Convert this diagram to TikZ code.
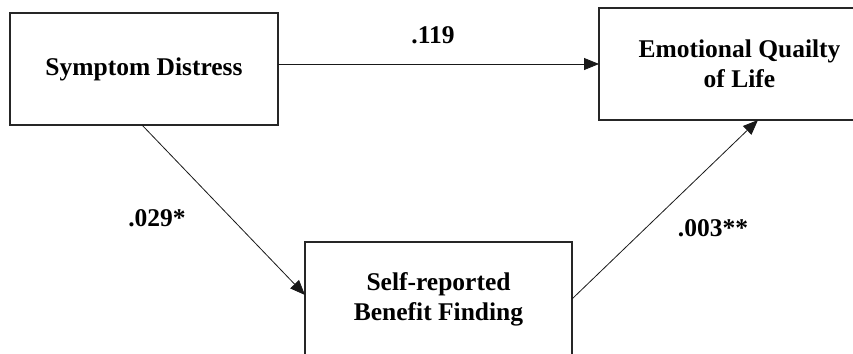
\documentclass[tikz,border=0pt]{standalone}
\usepackage{fontspec}
\setmainfont{Liberation Serif}
\usetikzlibrary{arrows.meta,calc}
\begin{document}
\begin{tikzpicture}[x=1bp,y=-1bp,
  box/.style={draw=black!85,line width=1.3bp,fill=white,inner sep=0pt,outer sep=0pt,align=center,
    font=\fontsize{25.5bp}{30bp}\selectfont\bfseries},
  lbl/.style={font=\fontsize{25.5bp}{30bp}\selectfont\bfseries,inner sep=0pt},
  arr/.style={draw=black!90,line width=0.8bp,-{Triangle[length=15bp,width=12bp]}}]
\useasboundingbox (0,0) rectangle (853,353);
\clip (0,0) rectangle (853,353);
\fill[white] (0,0) rectangle (853,353);
\node[box,minimum width=268bp,minimum height=112bp] (sd) at (144,69) {Symptom Distress};
\node[box,minimum width=281bp,minimum height=112bp] (eq) at (739.5,64) {Emotional Quailty\\of Life};
\node[box,minimum width=267bp,minimum height=114bp] (sr) at (438.5,299) {Self-reported\\Benefit Finding};
\draw[arr] (sd.east |- eq.west) -- (eq.west);
\draw[arr] ($(sd.south west)+(132,0)$) -- ($(sr.north west)+(0,53)$);
\draw[arr] ($(sr.north east)+(0,57)$) -- ($(eq.south west)+(159,0)$);
\node[lbl] (l1) at (433,35) {.119};
\node[lbl] (l2) at (157,218) {.029*};
\node[lbl] (l3) at (713,228) {.003**};
\end{tikzpicture}
\end{document}
